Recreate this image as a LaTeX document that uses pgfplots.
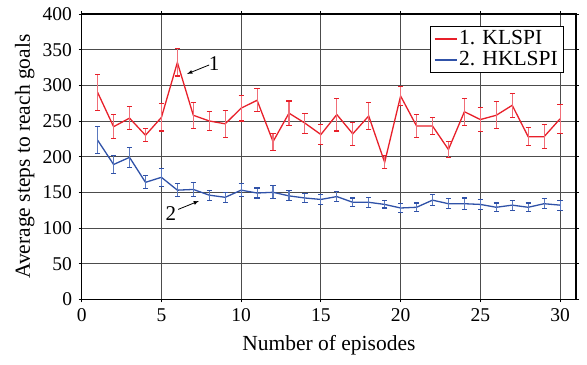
\documentclass[border=0pt]{standalone}
\usepackage{fontspec}
\setmainfont{Liberation Serif}
\usepackage{pgfplots}
\usepackage{pgfplotstable}
\pgfplotsset{compat=1.18}
\definecolor{kred}{RGB}{232,32,42}
\definecolor{kredl}{RGB}{240,110,120}
\definecolor{kblue}{RGB}{48,82,168}
\definecolor{kbluel}{RGB}{90,120,190}
\pgfplotstableread{
x y e
1 290 25
2 242 17
3 254 16
4 230 9
5 255 19
6 332 19
7 258 18
8 250 13
9 246 19
10 268 18
11 279 16
12 221 12
13 261 17
14 247 14
15 231 14
16 259 23
17 232 16
18 257 19
19 192 9
20 285 13
21 243 16
22 243 12
23 210 11
24 263 19
25 252 17
26 258 19
27 272 17
28 228 13
29 228 17
30 253 20
}\klspi
\pgfplotstableread{
x y e
1 223 19
2 189 13
3 199 14
4 164 9
5 171 13
6 153 9
7 154 10
8 146 7
9 143 7
10 153 9
11 149 7
12 150 9
13 145 7
14 142 6
15 140 7
16 144 7
17 136 6
18 136 7
19 133 5
20 128 6
21 129 6
22 139 8
23 134 7
24 134 8
25 133 7
26 129 6
27 132 7
28 129 6
29 134 7
30 132 7
}\hklspi
\begin{document}
\fontsize{19.5bp}{23bp}\selectfont
\begin{tikzpicture}
\begin{axis}[name=ax,
  scale only axis, width=494.3bp, height=285.3bp,
  xmin=0, xmax=31, ymin=0, ymax=400,
  xtick={0,5,...,30}, ytick={0,50,...,400},
  grid=major, major grid style={black!70, line width=0.8bp},
  axis line style={line width=1.2bp},
  tick align=outside, major tick length=3bp,
  tick style={black, line width=0.8bp},
  tick label style={font=\fontsize{19.5bp}{23bp}\selectfont},
  label style={font=\fontsize{21.5bp}{25bp}\selectfont},
  ylabel style={yshift=-5bp},
  /pgf/number format/assume math mode=true,
  xlabel={Number of episodes},
  ylabel={Average steps to reach goals},
  legend style={at={(0.976,0.958)}, anchor=north east, draw=black, line width=0.8bp,
    font=\fontsize{21.5bp}{25bp}\selectfont, inner xsep=4bp, inner ysep=2bp,
    row sep=0bp},
  legend cell align=left,
  legend image code/.code={\draw[#1] (0bp,0bp) -- (22bp,0bp);},
]
\addlegendimage{kred, line width=1.3bp}
\addlegendentry{1. KLSPI}
\addlegendimage{kblue, line width=1.3bp}
\addlegendentry{2. HKLSPI}
\addplot[forget plot, kred, line width=1.3bp, mark=none,
  error bars/.cd, y dir=both, y explicit,
  error bar style={kredl, line width=1.1bp},
  error mark options={kred, rotate=90, mark size=2.6bp, line width=1.1bp}]
  table[x=x, y=y, y error=e] {\klspi};
\addplot[forget plot, kblue, line width=1.3bp, mark=none,
  error bars/.cd, y dir=both, y explicit,
  error bar style={kbluel, line width=1.1bp},
  error mark options={kblue, rotate=90, mark size=2.6bp, line width=1.1bp}]
  table[x=x, y=y, y error=e] {\hklspi};
\draw[-latex, line width=0.8bp] (axis cs:7.99,328.5) -- (axis cs:6.61,316);
\node[font=\fontsize{21bp}{25bp}\selectfont] at (axis cs:8.3,331) {1};
\draw[-latex, line width=0.8bp] (axis cs:6.05,126) -- (axis cs:7.35,137.8);
\node[font=\fontsize{21bp}{25bp}\selectfont] at (axis cs:5.6,120.6) {2};
\end{axis}
\pgfresetboundingbox
\path ([xshift=-81.7bp,yshift=-65.7bp]ax.south west) rectangle ([xshift=11bp,yshift=14bp]ax.north east);
\end{tikzpicture}
\end{document}
